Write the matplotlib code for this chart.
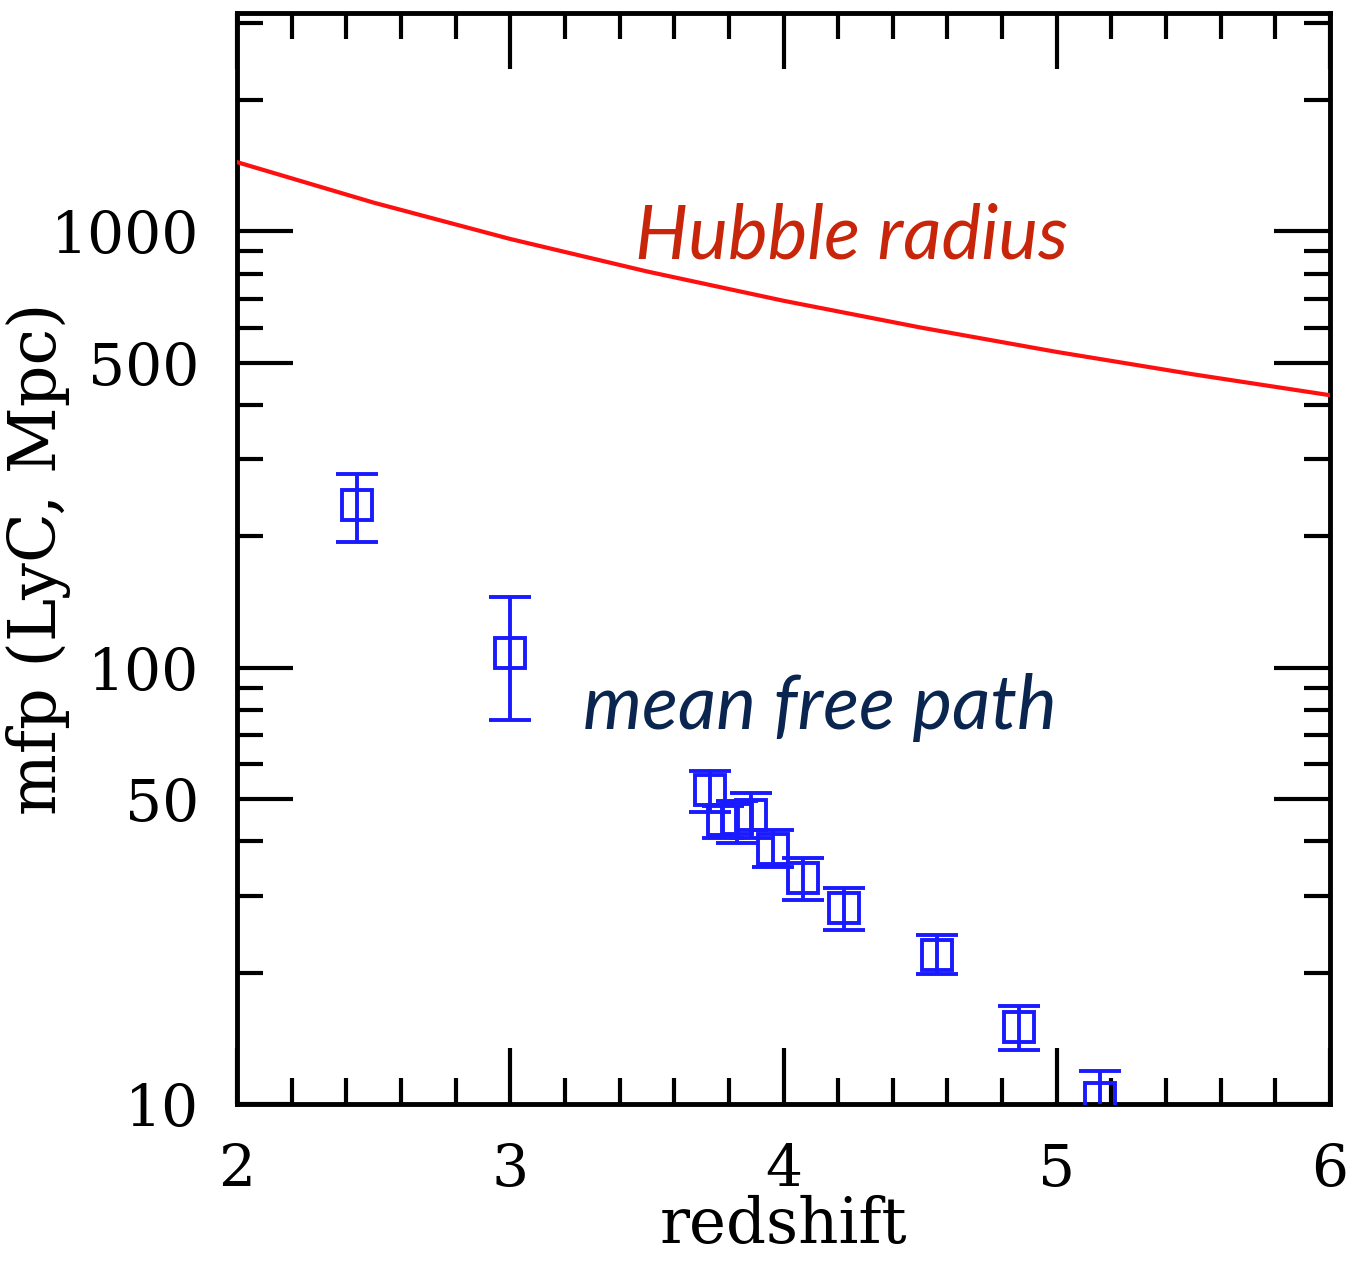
import numpy as np
import matplotlib
matplotlib.use("Agg")
import matplotlib.pyplot as plt
import matplotlib.ticker as ticker

# Hubble radius c/H(z), proper Mpc
z_hubble = [2.0, 2.5, 3.0, 3.5, 4.0, 4.5, 5.0, 5.5, 6.0]
r_hubble = [1440, 1163, 960, 809, 693, 602, 529, 470, 421]

# Lyman-continuum mean free path measurements
z_mfp = [2.44, 3.00, 3.73, 3.78, 3.83, 3.88, 3.96, 4.07, 4.22, 4.56, 4.86, 5.16]
mfp = [236, 108, 52.3, 44.7, 45.1, 45.9, 38.5, 32.9, 28.1, 22.0, 15.0, 10.3]
mfp_hi = [278, 145, 58.1, 48.3, 49.6, 51.5, 42.4, 36.6, 31.2, 24.4, 16.8, 11.9]
mfp_lo = [194, 76, 46.8, 40.6, 39.6, 40.6, 34.9, 29.4, 25.0, 19.9, 13.3, 8.7]

y_major = [10, 50, 100, 500, 1000]
y_minor = [20, 30, 40, 60, 70, 80, 90, 200, 300, 400, 600, 700, 800, 900, 2000, 3000]

tick_font = 'DejaVu Serif'

fig = plt.figure(figsize=(13.5, 12.68), dpi=100)
ax = fig.add_axes([0.1756, 0.1293, 0.8096, 0.8604])

ax.plot(z_hubble, r_hubble, color='#ff1010', lw=3.0, zorder=3)

mfp = np.array(mfp)
yerr = [mfp - np.array(mfp_lo), np.array(mfp_hi) - mfp]
ax.errorbar(z_mfp, mfp, yerr=yerr, fmt='s', mfc='none', mec='#1a1aff',
            ms=22, mew=2.8, ecolor='#1a1aff', elinewidth=2.8,
            capsize=15, capthick=2.8, zorder=4)

ax.set_yscale('log')
ax.set_xlim(2, 6)
ax.set_ylim(10, 10 ** 3.5)

ax.xaxis.set_major_locator(ticker.MultipleLocator(1))
ax.xaxis.set_minor_locator(ticker.MultipleLocator(0.2))
ax.yaxis.set_major_locator(ticker.FixedLocator(y_major))
ax.yaxis.set_minor_locator(ticker.FixedLocator(y_minor))
ax.yaxis.set_major_formatter(ticker.FixedFormatter([str(v) for v in y_major]))
ax.yaxis.set_minor_formatter(ticker.NullFormatter())
ax.xaxis.set_major_formatter(ticker.FormatStrFormatter('%d'))

ax.tick_params(which='both', direction='in', top=True, right=True,
               width=3, color='black')
ax.tick_params(which='major', length=40, pad=27)
ax.tick_params(which='minor', length=19)
for lab in ax.get_xticklabels() + ax.get_yticklabels():
    lab.set_fontfamily(tick_font)
    lab.set_fontsize(42)
for sp in ax.spines.values():
    sp.set_linewidth(3.5)

ax.set_xlabel('redshift', fontsize=45, family=tick_font)
ax.xaxis.set_label_coords(0.5, -0.083)
ax.set_ylabel('mfp (LyC, Mpc)', fontsize=47, family=tick_font)
ax.yaxis.set_label_coords(-0.152, 0.5)

ax.text(3.457, 868, 'Hubble radius', color='#c8260a', fontsize=54,
        family='Lato', style='italic', va='baseline', ha='left')
ax.text(3.266, 72.5, 'mean free path', color='#0a2550', fontsize=54,
        family='Lato', style='italic', va='baseline', ha='left')

fig.savefig('out.png', dpi=100, facecolor='white')
